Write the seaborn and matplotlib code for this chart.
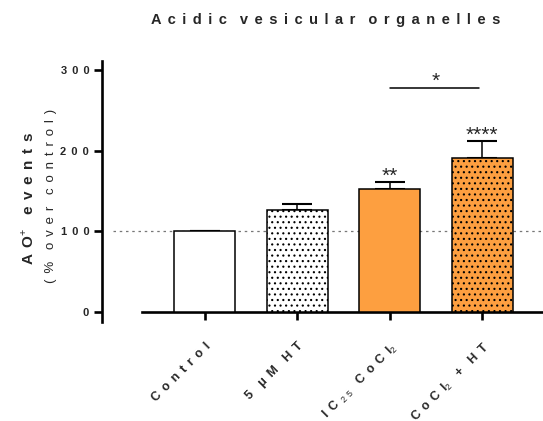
import matplotlib
matplotlib.use("Agg")
import matplotlib.pyplot as plt
import seaborn as sns
import pandas as pd

categories = ["Control", "5 μM HT", "IC25 CoCl2", "CoCl2 + HT"]
means = [100, 126.5, 153, 191]
errors = [0, 8, 8, 21]
stars = ["", "", "**", "****"]
y_ticks = [0, 100, 200, 300]
colors = ["#FFFFFF", "#FFFFFF", "#FD9F40", "#FD9F40"]
hatches = ["", "...", "", "..."]

SEP = " \u2006"          # letter spacing used by the original figure
WSEP = SEP * 2


def spaced(word):
    return SEP.join(word)


def spaced_phrase(text):
    return WSEP.join(spaced(w) for w in text.split(" "))


tick_labels = [
    spaced("Control"),
    spaced("5") + WSEP + "μ" + SEP + spaced("M") + WSEP + spaced("HT"),
    spaced("IC") + SEP + r"$_{2\,\,5}$" + WSEP + spaced("CoCl") + r"$_{2}$",
    spaced("CoCl") + r"$_{2}$" + WSEP + "+" + WSEP + spaced("HT"),
]
y_tick_labels = [spaced(str(v)) for v in y_ticks]

sns.set_theme(style="white")
plt.rcParams["font.family"] = ["Liberation Sans", "DejaVu Sans"]
plt.rcParams["hatch.linewidth"] = 0.8
plt.rcParams["mathtext.fontset"] = "custom"
plt.rcParams["mathtext.rm"] = "Liberation Sans"

fig = plt.figure(figsize=(5.43, 4.21), dpi=100)
ax = fig.add_axes([142 / 543, 99 / 421, 401 / 543, (360 - 99) / 421])

df = pd.DataFrame({"cat": categories, "val": means})
sns.barplot(data=df, x="cat", y="val", order=categories, width=0.66,
            color="white", edgecolor="black", linewidth=1.1, ax=ax, errorbar=None)
for p, c, h in zip(ax.patches, colors, hatches):
    p.set_facecolor(c)
    p.set_hatch(h)
    p.set_edgecolor("black")
    p.set_linewidth(1.1)
    p.set_zorder(4)

xs = list(range(len(categories)))
ax.errorbar(xs, means, yerr=[[0] * len(errors), errors], fmt="none",
            ecolor="black", elinewidth=1.1, capsize=11, capthick=1.5, zorder=3)

ax.set_xlim(-0.68, 3.66)
ax.set_ylim(-12, 311)
ax.axhline(100, xmin=-29 / 401, xmax=1, color="#777777", linestyle=(0, (2, 3)),
           linewidth=0.9, clip_on=False, zorder=1)

for x, m, e, s in zip(xs, means, errors, stars):
    if s:
        ax.text(x, m + e, s, ha="center", va="baseline", fontsize=15)

# significance bracket between groups 3 and 4
ax.plot([2, 2.97], [278, 278], color="black", linewidth=1.1)
ax.text(2.5, 279, "*", ha="center", va="baseline", fontsize=15)

for s in ["top", "right"]:
    ax.spines[s].set_visible(False)
ax.spines["left"].set_position(("outward", 29))
ax.spines["bottom"].set_position(("data", 0))
for s in ["left", "bottom"]:
    ax.spines[s].set_linewidth(1.9)
    ax.spines[s].set_color("black")

ax.set_yticks(y_ticks)
ax.set_yticklabels(y_tick_labels, fontsize=8, fontweight="bold")
ax.set_xticks(xs)
ax.set_xticklabels(tick_labels, rotation=45, ha="right", rotation_mode="anchor",
                   fontsize=9, fontweight="bold")
ax.tick_params(axis="both", which="major", length=6, width=1.9, color="black",
               left=True, bottom=True, direction="out")
ax.tick_params(axis="x", pad=14)
ax.tick_params(axis="y", pad=3)
ax.set_xlabel("")
ax.set_ylabel("")

fig.text(28 / 543, 1 - 198 / 421, spaced("AO") + "$^{+}$" + WSEP + spaced("events"),
         rotation=90, ha="center", va="center", fontsize=11, fontweight="bold")
fig.text(51 / 543, 1 - 196 / 421, spaced_phrase("(% over control)"), rotation=90,
         ha="center", va="center", fontsize=9.5)
fig.text(326 / 543, 1 - 24 / 421, spaced_phrase("Acidic vesicular organelles"),
         ha="center", va="baseline", fontsize=10.5, fontweight="bold")

fig.savefig("out.png", dpi=100)
